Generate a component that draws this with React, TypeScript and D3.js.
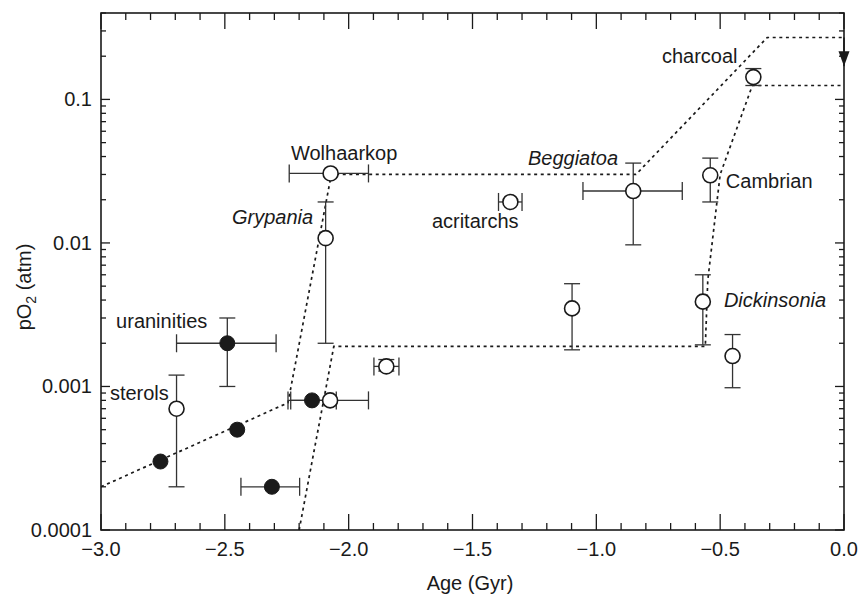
import React from 'react';
import * as d3 from 'd3';

// age in Gyr (negative = before present), pO2 in atm
const filledPoints = [
  { age: -2.76, po2: 0.0003 },
  { age: -2.45, po2: 0.0005 },
  { age: -2.49, po2: 0.002, xLo: -2.695, xHi: -2.293, yLo: 0.001, yHi: 0.003 },
  { age: -2.31, po2: 0.0002, xLo: -2.435, xHi: -2.198 },
  { age: -2.148, po2: 0.0008, xLo: -2.245, xHi: -2.05 },
];

const openPoints = [
  { age: -2.695, po2: 0.0007, yLo: 0.0002, yHi: 0.0012 },
  { age: -2.075, po2: 0.0008, xLo: -2.234, xHi: -1.92 },
  { age: -1.848, po2: 0.00138, xLo: -1.898, xHi: -1.797, yLo: 0.00128, yHi: 0.00154 },
  { age: -2.093, po2: 0.0108, yLo: 0.002, yHi: 0.0193 },
  { age: -2.073, po2: 0.0305, xLo: -2.24, xHi: -1.92 },
  { age: -1.347, po2: 0.0193, xLo: -1.395, xHi: -1.3 },
  { age: -0.851, po2: 0.023, xLo: -1.054, xHi: -0.653, yLo: 0.0097, yHi: 0.036 },
  { age: -1.098, po2: 0.0035, yLo: 0.0018, yHi: 0.0052 },
  { age: -0.57, po2: 0.0039, yLo: 0.00195, yHi: 0.006 },
  { age: -0.45, po2: 0.00163, yLo: 0.00098, yHi: 0.0023 },
  { age: -0.54, po2: 0.0296, yLo: 0.0193, yHi: 0.039 },
  { age: -0.366, po2: 0.143, yLo: 0.125, yHi: 0.164 },
];

// upper and lower bounds (dotted)
const upperBound = [
  [-3.0, 0.0002], [-2.245, 0.00077], [-2.07, 0.03], [-0.84, 0.03], [-0.31, 0.27], [0, 0.27],
];
const lowerBound = [
  [-2.2, 0.0001], [-2.06, 0.0019], [-0.56, 0.0019], [-0.55, 0.0055], [-0.5, 0.03], [-0.37, 0.125], [0, 0.125],
];
const arrowSpan = [0.27, 0.17];

const labels = [
  { text: 'charcoal', age: -0.43, po2: 0.178, anchor: 'end', italic: false },
  { text: 'Wolhaarkop', age: -2.233, po2: 0.0376, anchor: 'start', italic: false },
  { text: 'Beggiatoa', age: -1.276, po2: 0.0347, anchor: 'start', italic: true },
  { text: 'Grypania', age: -2.471, po2: 0.01345, anchor: 'start', italic: true },
  { text: 'acritarchs', age: -1.664, po2: 0.01265, anchor: 'start', italic: false },
  { text: 'Cambrian', age: -0.477, po2: 0.024, anchor: 'start', italic: false },
  { text: 'Dickinsonia', age: -0.485, po2: 0.00356, anchor: 'start', italic: true },
  { text: 'uraninities', age: -2.939, po2: 0.00255, anchor: 'start', italic: false },
  { text: 'sterols', age: -2.964, po2: 0.0008, anchor: 'start', italic: false },
];

const xTickValues = [-3.0, -2.5, -2.0, -1.5, -1.0, -0.5, 0.0];
const xTickLabels = ['\u22123.0', '\u22122.5', '\u22122.0', '\u22121.5', '\u22121.0', '\u22120.5', '0.0'];
const yTickValues = [0.0001, 0.001, 0.01, 0.1];
const yTickLabels = ['0.0001', '0.001', '0.01', '0.1'];

const W = 860;
const H = 594;
const ink = '#1a1a1a';
const font = '"Liberation Sans", Arial, Helvetica, sans-serif';

export default function App() {
  const x = d3.scaleLinear().domain([-3, 0]).range([101, 844]);
  const y = d3.scaleLog().domain([0.0001, 0.4]).range([530, 13]);
  const [x0, x1] = x.range();
  const [y0, y1] = y.range();

  const line = d3
    .line<number[]>()
    .x((d) => x(d[0]))
    .y((d) => y(d[1]));

  const xMinor = d3.range(-30, 1).map((i) => i / 10);
  const yMinor = y.ticks().filter((v) => v >= 0.0001 && v <= 0.4);
  const isDecade = (v: number) => Math.abs(Math.log10(v) - Math.round(Math.log10(v))) < 1e-6;

  const errorBars = (p: any, i: number, key: string) => (
    <g key={key + i} stroke="#333" strokeWidth={1.3} fill="none">
      {p.xLo !== undefined && (
        <>
          <line x1={x(p.xLo)} x2={x(p.xHi)} y1={y(p.po2)} y2={y(p.po2)} />
          <line x1={x(p.xLo)} x2={x(p.xLo)} y1={y(p.po2) - 9} y2={y(p.po2) + 9} />
          <line x1={x(p.xHi)} x2={x(p.xHi)} y1={y(p.po2) - 9} y2={y(p.po2) + 9} />
        </>
      )}
      {p.yLo !== undefined && (
        <>
          <line x1={x(p.age)} x2={x(p.age)} y1={y(p.yLo)} y2={y(p.yHi)} />
          <line x1={x(p.age) - 8} x2={x(p.age) + 8} y1={y(p.yLo)} y2={y(p.yLo)} />
          <line x1={x(p.age) - 8} x2={x(p.age) + 8} y1={y(p.yHi)} y2={y(p.yHi)} />
        </>
      )}
    </g>
  );

  const ax = x(0);
  const aTop = y(arrowSpan[0]);
  const aTip = y(arrowSpan[1]);

  return (
    <svg
      width={W}
      height={H}
      style={{ position: 'absolute', left: 0, top: 0, background: '#fff' }}
      fontFamily={font}
    >
      <rect width={W} height={H} fill="#fff" />

      {/* bounds */}
      <path d={line(upperBound as any) || ''} fill="none" stroke={ink} strokeWidth={1.7} strokeDasharray="3,3.6" />
      <path d={line(lowerBound as any) || ''} fill="none" stroke={ink} strokeWidth={1.7} strokeDasharray="3,3.6" />
      <line x1={ax} x2={ax} y1={aTop} y2={aTip} stroke={ink} strokeWidth={1.6} />
      <path d={`M${ax - 5.5},${aTip - 15} L${ax + 5.5},${aTip - 15} L${ax},${aTip} Z`} fill={ink} />

      {/* error bars */}
      {filledPoints.map((p, i) => errorBars(p, i, 'fe'))}
      {openPoints.map((p, i) => errorBars(p, i, 'oe'))}

      {/* points */}
      {filledPoints.map((p, i) => (
        <circle key={'f' + i} cx={x(p.age)} cy={y(p.po2)} r={7.5} fill={ink} stroke={ink} strokeWidth={1} />
      ))}
      {openPoints.map((p, i) => (
        <circle key={'o' + i} cx={x(p.age)} cy={y(p.po2)} r={7.5} fill="#fff" stroke={ink} strokeWidth={1.6} />
      ))}

      {/* annotations */}
      {labels.map((l) => (
        <text
          key={l.text}
          x={x(l.age)}
          y={y(l.po2)}
          textAnchor={l.anchor as any}
          fontSize={20}
          fontStyle={l.italic ? 'italic' : 'normal'}
          fill={ink}
        >
          {l.text}
        </text>
      ))}

      {/* frame */}
      <rect x={x0} y={y1} width={x1 - x0} height={y0 - y1} fill="none" stroke={ink} strokeWidth={1.6} />

      {/* x ticks, bottom and top, inward */}
      {xMinor.map((v) => {
        const major = Math.abs(v * 2 - Math.round(v * 2)) < 1e-6;
        const len = major ? 16 : 7;
        return (
          <g key={'xt' + v} stroke={ink} strokeWidth={1.3}>
            <line x1={x(v)} x2={x(v)} y1={y0} y2={y0 - len} />
            <line x1={x(v)} x2={x(v)} y1={y1} y2={y1 + len} />
          </g>
        );
      })}

      {/* y ticks, left and right, inward */}
      {yMinor.map((v) => {
        const len = isDecade(v) ? 9 : 5;
        return (
          <g key={'yt' + v} stroke={ink} strokeWidth={1.3}>
            <line x1={x0} x2={x0 + len} y1={y(v)} y2={y(v)} />
            <line x1={x1} x2={x1 - len} y1={y(v)} y2={y(v)} />
          </g>
        );
      })}

      {xTickValues.map((v, i) => (
        <text key={'xl' + i} x={x(v)} y={556} textAnchor="middle" fontSize={20} fill={ink}>
          {xTickLabels[i]}
        </text>
      ))}
      {yTickValues.map((v, i) => (
        <text key={'yl' + i} x={92} y={y(v) + 7} textAnchor="end" fontSize={20} fill={ink}>
          {yTickLabels[i]}
        </text>
      ))}

      <text x={470} y={590} textAnchor="middle" fontSize={20} fill={ink}>
        Age (Gyr)
      </text>
      <text transform="translate(31,287) rotate(-90)" textAnchor="middle" fontSize={20} fill={ink}>
        pO<tspan fontSize={14} dy={5}>2</tspan>
        <tspan dy={-5}> (atm)</tspan>
      </text>
    </svg>
  );
}
